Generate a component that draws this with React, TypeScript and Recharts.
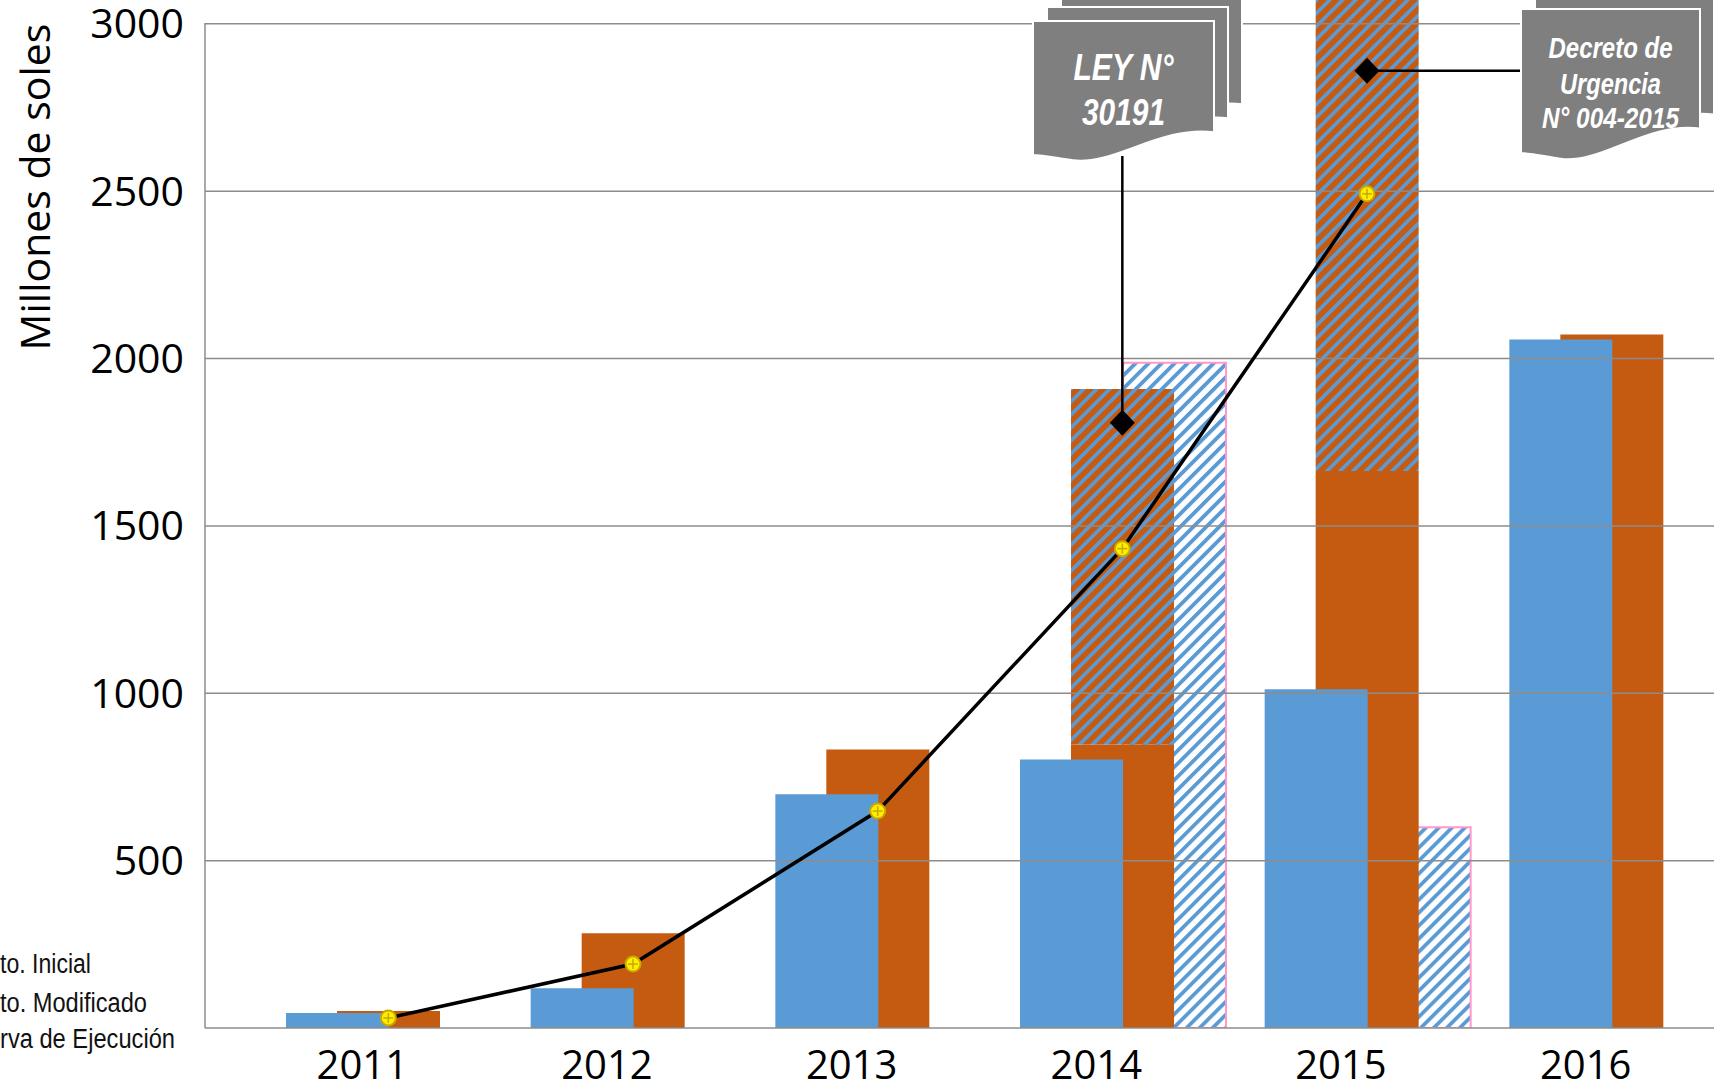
import { ComposedChart, Bar, Line, XAxis, YAxis, ReferenceLine } from "recharts";

const years = ["2011", "2012", "2013", "2014", "2015", "2016"];
const pptoInicial = [45, 119, 698, 802, 1012, 2057];
const pptoModificado = [51, 283, 832, 847, 1664, 2072];
// hatched part stacked on top of the modified budget (2015 runs past the top)
const modificadoNorma = [0, 0, 0, 1062, 1636, 0];
const reservaEjecucion = [null, null, null, 1987, 600, null];
const curvaEjecucion = [30, 191, 648, 1432, 2492, null];
const normas = [null, null, null, 1808, 2860, null];
const yTicks = [500, 1000, 1500, 2000, 2500, 3000];
const legendLabels = ["to. Inicial", "to. Modificado", "rva de Ejecución"];

const BLUE = "#5B9BD5";
const ORANGE = "#C55A11";
const GRID = "#8C8C8C";

const data = years.map((year, i) => ({
  year,
  inicial: pptoInicial[i],
  modificado: pptoModificado[i],
  norma: modificadoNorma[i],
  reserva: reservaEjecucion[i],
  curva: curvaEjecucion[i],
  hito: normas[i],
}));

// where each diamond's connector runs to (callout edge)
const connectors: Record<number, { x?: number; y?: number }> = {
  3: { y: 156 },
  4: { x: 1521 },
};

const docPath = (x: number, y: number, w: number, h: number) =>
  `M${x},${y} H${x + w} V${y + 0.83 * h} ` +
  `C${x + 0.7 * w},${y + 0.78 * h} ${x + 0.45 * w},${y + 1.08 * h} ${x + 0.22 * w},${y + 1.04 * h} ` +
  `C${x + 0.12 * w},${y + 1.02 * h} ${x + 0.05 * w},${y + 1.0 * h} ${x},${y + h} Z`;

const Callout = ({ x, y, w, h, lines }: { x: number; y: number; w: number; h: number; lines: { text: string; y: number; len: number; size: number }[] }) => (
  <g>
    {[2, 1, 0].map((k) => (
      <path key={k} d={docPath(x + 14 * k, y - 14 * k, w, h)} fill="#7F7F7F" stroke="#fff" strokeWidth={2} />
    ))}
    {lines.map((l) => (
      <text
        key={l.text}
        x={x + w / 2}
        y={l.y}
        textAnchor="middle"
        fill="#fff"
        fontFamily="'Liberation Sans Narrow', 'Liberation Sans', Arial, sans-serif"
        fontWeight="bold"
        fontStyle="italic"
        fontSize={l.size}
        textLength={l.len}
        lengthAdjust="spacingAndGlyphs"
      >
        {l.text}
      </text>
    ))}
  </g>
);

const ExecDot = (props: any) => {
  const { cx, cy, index } = props;
  if (cx == null || cy == null) return <g key={`e${index}`} />;
  return (
    <g key={`e${index}`}>
      <circle cx={cx} cy={cy} r={7.5} fill="#FFEE00" stroke="#C9A800" strokeWidth={2} />
      <line x1={cx - 5} x2={cx + 5} y1={cy} y2={cy} stroke="#C9A800" strokeWidth={1.5} />
      <line x1={cx} x2={cx} y1={cy - 5} y2={cy + 5} stroke="#C9A800" strokeWidth={1.5} />
    </g>
  );
};

const HitoDot = (props: any) => {
  const { cx, cy, index } = props;
  if (cx == null || cy == null) return <g key={`h${index}`} />;
  const c = connectors[index] || {};
  return (
    <g key={`h${index}`}>
      <line x1={cx} y1={cy} x2={c.x ?? cx} y2={c.y ?? cy} stroke="#000" strokeWidth={2.5} />
      <polygon points={`${cx},${cy - 13} ${cx + 12.5},${cy} ${cx},${cy + 13} ${cx - 12.5},${cy}`} fill="#000" />
    </g>
  );
};

const YearTick = ({ x, y, payload }: any) => (
  <text x={x - 26} y={y + 51} textAnchor="middle" fontSize={40} fontFamily="'Open Sans', sans-serif" fill="#000">
    {payload.value}
  </text>
);

export default function App() {
  return (
    <div style={{ position: "absolute", left: 0, top: 0, width: 1714, height: 1091, overflow: "hidden", background: "#fff" }}>
      <ComposedChart width={1800} height={1091} data={data} margin={{ top: 0, right: 0, bottom: 0, left: 0 }}>
        <defs>
          <pattern id="hatchOrange" patternUnits="userSpaceOnUse" width="9.2" height="9.2" patternTransform="rotate(45)">
            <rect width="9.2" height="9.2" fill={ORANGE} />
            <rect width="3.6" height="9.2" fill={BLUE} />
          </pattern>
          <pattern id="hatchWhite" patternUnits="userSpaceOnUse" width="9.2" height="9.2" patternTransform="rotate(45)">
            <rect width="9.2" height="9.2" fill="#fff" />
            <rect width="3.8" height="9.2" fill={BLUE} />
          </pattern>
        </defs>
        <XAxis
          xAxisId="o"
          dataKey="year"
          height={63}
          padding={{ left: 61, right: 66 }}
          axisLine={{ stroke: GRID, strokeWidth: 1.5 }}
          tickLine={false}
          tickSize={0}
          tickMargin={0}
          tick={<YearTick />}
          interval={0}
        />
        <XAxis xAxisId="b" dataKey="year" hide height={0} padding={{ left: 10, right: 117 }} />
        <XAxis xAxisId="t" dataKey="year" hide height={0} padding={{ left: 113, right: 14 }} />
        <YAxis
          width={205}
          domain={[0, 3071]}
          allowDataOverflow
          ticks={yTicks}
          interval={0}
          axisLine={false}
          tickLine={false}
          tickSize={0}
          tickMargin={21}
          tick={{ fill: "#000", fontSize: 41, fontFamily: "'Open Sans', sans-serif" }}
          label={{
            content: () => (
              <text
                transform="translate(50,187) rotate(-90)"
                textAnchor="middle"
                fontSize={41}
                fontFamily="'Open Sans', sans-serif"
                fill="#000"
              >
                Millones de soles
              </text>
            ),
          }}
        />
        <Bar xAxisId="t" dataKey="reserva" barSize={103} fill="url(#hatchWhite)" stroke="#FF99CC" strokeWidth={2} isAnimationActive={false} />
        <Bar xAxisId="o" dataKey="modificado" stackId="m" barSize={103} fill={ORANGE} isAnimationActive={false} />
        <Bar xAxisId="o" dataKey="norma" stackId="m" barSize={103} fill="url(#hatchOrange)" isAnimationActive={false} />
        <Bar xAxisId="b" dataKey="inicial" barSize={103} fill={BLUE} isAnimationActive={false} />
        {yTicks.map((v) => (
          <ReferenceLine key={v} xAxisId="o" y={v} stroke={GRID} strokeWidth={1.5} />
        ))}
        <Line xAxisId="o" dataKey="curva" type="linear" stroke="#000" strokeWidth={3.5} dot={ExecDot} activeDot={false} isAnimationActive={false} />
        <Line xAxisId="o" dataKey="hito" type="linear" stroke="none" dot={HitoDot} activeDot={false} isAnimationActive={false} />
      </ComposedChart>
      <svg width={1714} height={1091} style={{ position: "absolute", left: 0, top: 0, pointerEvents: "none" }}>
        <line x1={205} x2={205} y1={23} y2={1028} stroke={GRID} strokeWidth={1.5} />
        <Callout
          x={1033}
          y={21}
          w={181}
          h={134}
          lines={[
            { text: "LEY N°", y: 80, len: 100, size: 36 },
            { text: "30191", y: 125, len: 83, size: 36 },
          ]}
        />
        <Callout
          x={1521}
          y={9}
          w={179}
          h={144}
          lines={[
            { text: "Decreto de", y: 58, len: 124, size: 30 },
            { text: "Urgencia", y: 94, len: 101, size: 30 },
            { text: "N° 004-2015", y: 128, len: 137, size: 30 },
          ]}
        />
        {legendLabels.map((t, i) => (
          <text
            key={t}
            x={0}
            y={[973, 1012, 1048][i]}
            fontSize={27}
            fontFamily="'Liberation Sans Narrow', 'Liberation Sans', Arial, sans-serif"
            fill="#111"
            textLength={[91, 147, 175][i]}
            lengthAdjust="spacingAndGlyphs"
          >
            {t}
          </text>
        ))}
      </svg>
    </div>
  );
}
